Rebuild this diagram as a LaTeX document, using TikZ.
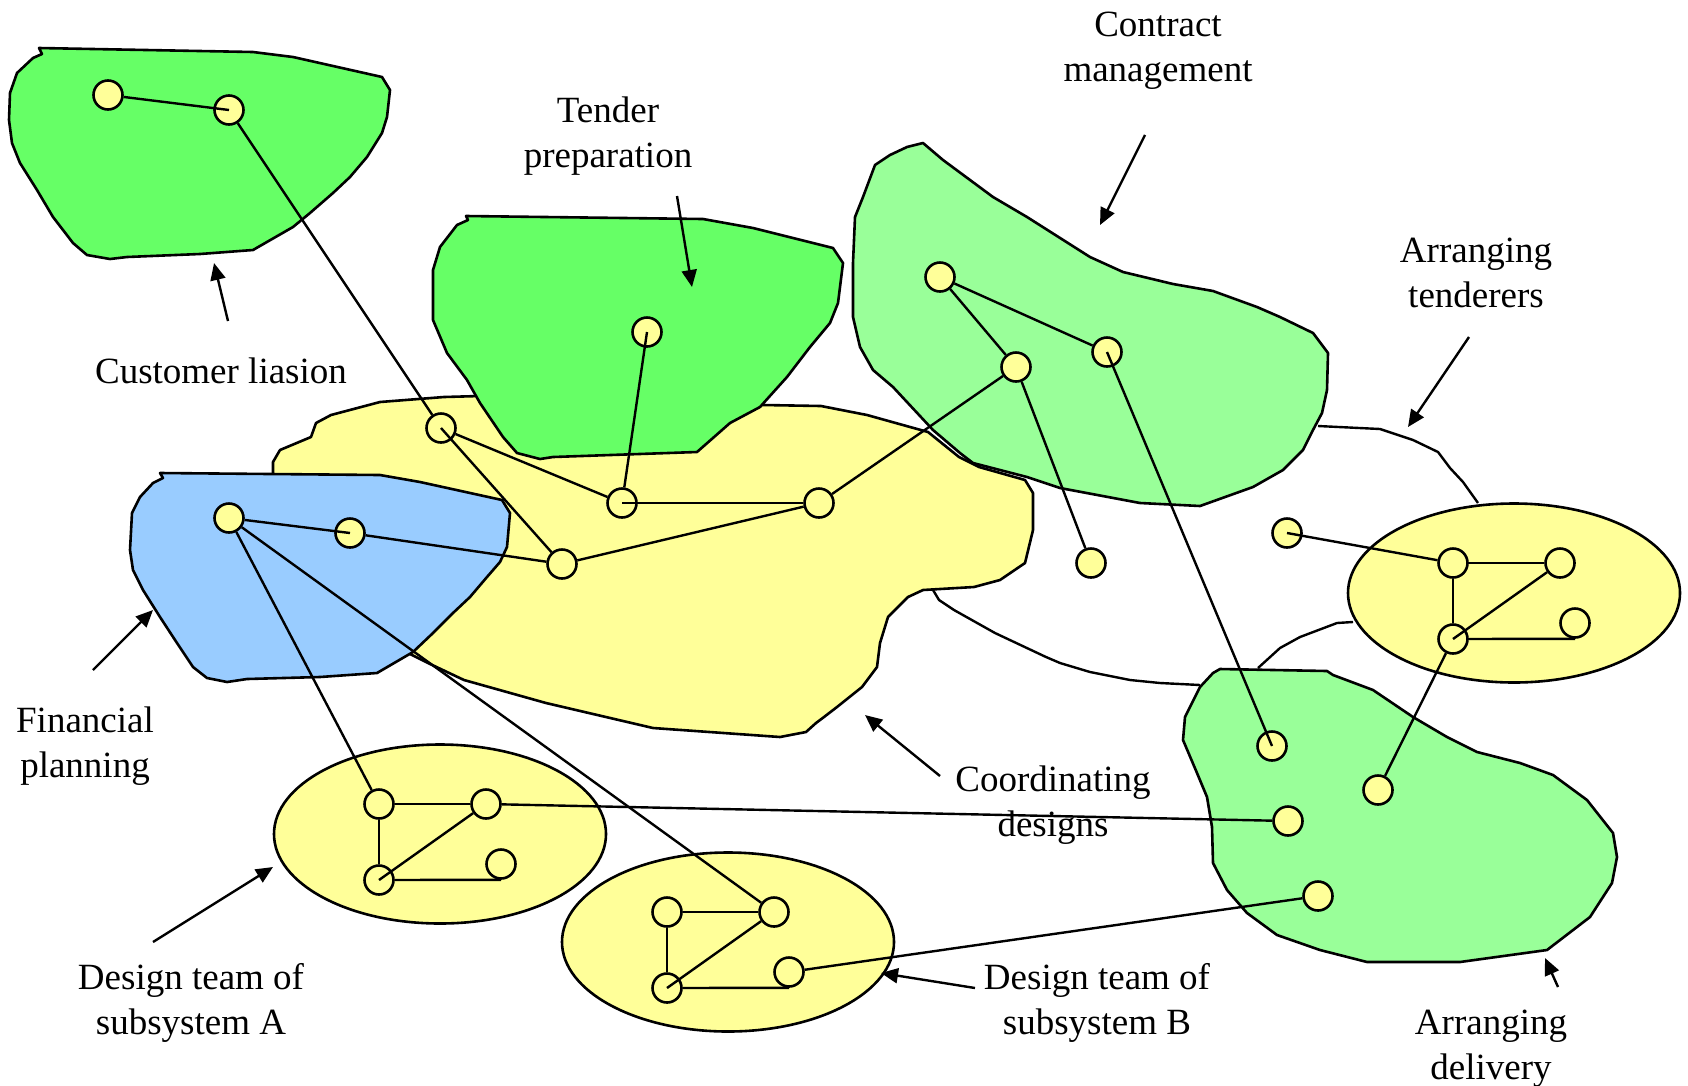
\documentclass[tikz,border=0pt]{standalone}
\usepackage{fontspec}
\setmainfont{Liberation Serif}
\usetikzlibrary{arrows.meta,shapes.geometric}
\definecolor{leafgreen}{HTML}{66FF66}
\definecolor{palegreen}{HTML}{99FF99}
\definecolor{skyblue}{HTML}{99CCFF}
\definecolor{cream}{HTML}{FFFF99}
\tikzset{
  region/.style={draw=black, line width=2.6pt, line join=round},
  actor/.style={circle, draw=black, fill=cream, line width=2.6pt, minimum size=29pt, inner sep=0pt},
  team/.style={ellipse, draw=black, fill=cream, line width=2.6pt, minimum width=332pt, minimum height=179pt, inner sep=0pt},
  link/.style={draw=black, line width=2.4pt},
  seam/.style={draw=black, line width=2.4pt, line join=round},
  pointer/.style={draw=black, line width=2.4pt, -{Triangle[length=17pt,width=15pt]}},
  caption/.style={font=\fontsize{37}{45}\selectfont, align=center, inner sep=0pt},
}
\begin{document}
\begin{tikzpicture}[x=1pt, y=-1pt]
\fill[white] (0,0) rectangle (1688,1085);
\useasboundingbox (0,0) rectangle (1688,1085);

% free boundary lines between the regions
\draw[seam] (1318,426) -- (1380,429) -- (1413,440) -- (1438,452) -- (1450,468) -- (1463,482) -- (1478,503);
\draw[seam] (1353,622) -- (1337,623) -- (1300,637) -- (1280,648) -- (1258,668);
\draw[seam] (933,590) -- (939,600) -- (954,610) -- (995,633) -- (1046,657) -- (1060,663) -- (1090,672) -- (1130,680) -- (1160,683) -- (1200,685);

% coordinating designs
\filldraw[region, fill=cream] (273,473) -- (273,462) -- (280,450) -- (311,437) -- (316,423) -- (331,415) -- (380,402) -- (444,397) -- (480,396) -- (600,400) -- (700,405) -- (763,405) -- (821,406) -- (867,415) -- (928,432) -- (959,457) -- (979,467) -- (1025,480) -- (1033,493) -- (1033,530) -- (1025,563) -- (1000,580) -- (974,587) -- (923,590) -- (908,597) -- (888,617) -- (880,643) -- (877,667) -- (862,687) -- (837,707) -- (824,717) -- (816,723) -- (806,732) -- (780,737) -- (653,728) -- (546,703) -- (464,680) -- (428,663) -- (408,653) -- (380,630) -- (300,560) -- (273,500) -- cycle;

% tender preparation
\filldraw[region, fill=leafgreen] (466,216) -- (703,219) -- (753,228) -- (833,248) -- (843,263) -- (838,303) -- (830,323) -- (810,347) -- (787,377) -- (760,407) -- (730,423) -- (697,452) -- (553,457) -- (540,459) -- (517,453) -- (503,437) -- (480,403) -- (467,380) -- (447,353) -- (433,320) -- (433,270) -- (440,247) -- (457,225) -- (468,220) -- cycle;

% contract management
\filldraw[region, fill=palegreen] (923,143) -- (943,160) -- (993,197) -- (1027,217) -- (1090,257) -- (1123,272) -- (1173,284) -- (1213,291) -- (1257,307) -- (1280,317) -- (1313,333) -- (1328,353) -- (1327,390) -- (1322,413) -- (1313,430) -- (1303,450) -- (1283,470) -- (1253,487) -- (1200,506) -- (1140,503) -- (1060,488) -- (1027,477) -- (973,463) -- (960,453) -- (933,430) -- (893,387) -- (873,370) -- (860,347) -- (853,317) -- (853,263) -- (855,217) -- (863,197) -- (875,165) -- (890,155) -- (907,147) -- cycle;

% financial planning
\filldraw[region, fill=skyblue] (160,473) -- (380,475) -- (420,482) -- (502,500) -- (510,513) -- (507,547) -- (500,562) -- (487,577) -- (470,597) -- (453,613) -- (433,633) -- (413,652) -- (377,673) -- (320,677) -- (247,679) -- (227,682) -- (207,678) -- (193,667) -- (177,643) -- (160,617) -- (143,590) -- (133,570) -- (130,550) -- (132,513) -- (140,497) -- (153,483) -- (163,478) -- cycle;

% customer liaison
\filldraw[region, fill=leafgreen] (39,48) -- (253,52) -- (293,57) -- (382,77) -- (390,90) -- (387,117) -- (382,133) -- (367,157) -- (350,177) -- (333,193) -- (310,213) -- (293,227) -- (253,250) -- (200,254) -- (127,257) -- (110,259) -- (87,255) -- (73,243) -- (53,217) -- (37,190) -- (20,163) -- (12,143) -- (9,120) -- (10,93) -- (17,73) -- (33,58) -- (42,54) -- cycle;

% arranging delivery
\filldraw[region, fill=palegreen] (1220,669) -- (1327,671) -- (1333,675) -- (1373,690) -- (1413,717) -- (1447,737) -- (1477,752) -- (1520,763) -- (1553,775) -- (1587,800) -- (1613,833) -- (1617,857) -- (1612,883) -- (1590,917) -- (1547,950) -- (1460,962) -- (1367,962) -- (1320,950) -- (1277,935) -- (1247,913) -- (1227,890) -- (1213,863) -- (1212,827) -- (1207,797) -- (1197,773) -- (1183,740) -- (1185,717) -- (1200,687) -- (1213,673) -- cycle;

% design teams and tenderers
\node[team] (teamA) at (440,834) {};
\node[team] (teamB) at (728,942) {};
\node[team] (teamC) at (1514,593) {};

% people
\node[actor] (c1) at (108,95) {};
\node[actor] (c2) at (229,110) {};
\node[actor] (t1) at (647,332) {};
\node[actor] (k1) at (940,277) {};
\node[actor] (k2) at (1107,352) {};
\node[actor] (k3) at (1016,367) {};
\node[actor] (n1) at (441,428) {};
\node[actor] (n2) at (622,503) {};
\node[actor] (n3) at (819,503) {};
\node[actor] (n4) at (562,564) {};
\node[actor] (f1) at (229,518) {};
\node[actor] (f2) at (350,533) {};
\node[actor] (m1) at (1091,563) {};
\node[actor] (l1) at (1287,533) {};
\node[actor] (d1) at (1272,746) {};
\node[actor] (d2) at (1378,790) {};
\node[actor] (d3) at (1288,821) {};
\node[actor] (d4) at (1318,896) {};
\node[actor] (a1) at (379,804) {};
\node[actor] (a2) at (486,804) {};
\node[actor] (a3) at (379,880) {};
\node[actor] (a4) at (501,864) {};
\node[actor] (b1) at (667,912) {};
\node[actor] (b2) at (774,912) {};
\node[actor] (b3) at (667,988) {};
\node[actor] (b4) at (789,972) {};
\node[actor] (e1) at (1453,563) {};
\node[actor] (e2) at (1560,563) {};
\node[actor] (e3) at (1453,639) {};
\node[actor] (e4) at (1575,623) {};

% communication links
\draw[link] (c1) -- (c2.center);
\draw[link] (c2) -- (n1);
\draw[link] (n1) -- (n2);
\draw[link] (n1.center) -- (n4);
\draw[link] (t1.center) -- (n2);
\draw[link] (n2.center) -- (n3);
\draw[link] (n4) -- (n3);
\draw[link] (n3) -- (k3);
\draw[link] (k1) -- (k3);
\draw[link] (k1) -- (k2);
\draw[link] (k3) -- (m1);
\draw[link] (k2.center) -- (d1.center);
\draw[link] (f1) -- (f2.center);
\draw[link] (f2) -- (n4);
\draw[link] (f1) -- (a1);
\draw[link] (f1) -- (b2);
\draw[link] (a1) -- (a2);
\draw[link] (a1) -- (a3);
\draw[link] (a2) -- (a3.center);
\draw[link] (a3) -- (a4.south);
\draw[link] (a2) -- (d3);
\draw[link] (b1) -- (b2);
\draw[link] (b1) -- (b3);
\draw[link] (b2) -- (b3.center);
\draw[link] (b3) -- (b4.south);
\draw[link] (b4) -- (d4);
\draw[link] (e1) -- (e2);
\draw[link] (e1) -- (e3);
\draw[link] (e2) -- (e3.center);
\draw[link] (e3) -- (e4.south);
\draw[link] (l1.center) -- (e1);
\draw[link] (e3) -- (d2);

% labels
\node[caption] (lblContract) at (1158,51) {Contract\\management};
\node[caption] (lblTender) at (608,136) {Tender\\preparation};
\node[caption] (lblCustomer) at (221,371) {Customer liasion};
\node[caption] (lblTenderers) at (1476,273) {Arranging\\tenderers};
\node[caption] (lblFinance) at (85,746) {Financial\\planning};
\node[caption] (lblCoord) at (1053,805) {Coordinating\\designs};
\node[caption] (lblTeamA) at (191,1003) {Design team of\\subsystem A};
\node[caption] (lblTeamB) at (1097,1003) {Design team of\\subsystem B};
\node[caption] (lblDelivery) at (1491,1049) {Arranging\\delivery};

% label pointers
\coordinate (pCustA) at (228,321);   \coordinate (pCustB) at (214,263);
\coordinate (pTendA) at (677,196);   \coordinate (pTendB) at (692,287);
\coordinate (pContA) at (1145,135);  \coordinate (pContB) at (1100,225);
\coordinate (pTdrsA) at (1469,337);  \coordinate (pTdrsB) at (1408,427);
\coordinate (pFinA) at (93,670);     \coordinate (pFinB) at (153,610);
\coordinate (pCoorA) at (940,776);   \coordinate (pCoorB) at (865,715);
\coordinate (pTmAA) at (153,942);    \coordinate (pTmAB) at (273,867);
\coordinate (pTmBA) at (975,988);    \coordinate (pTmBB) at (881,973);
\coordinate (pDelA) at (1558,987);   \coordinate (pDelB) at (1545,958);
\draw[pointer] (pCustA) -- (pCustB);
\draw[pointer] (pTendA) -- (pTendB);
\draw[pointer] (pContA) -- (pContB);
\draw[pointer] (pTdrsA) -- (pTdrsB);
\draw[pointer] (pFinA) -- (pFinB);
\draw[pointer] (pCoorA) -- (pCoorB);
\draw[pointer] (pTmAA) -- (pTmAB);
\draw[pointer] (pTmBA) -- (pTmBB);
\draw[pointer] (pDelA) -- (pDelB);
\end{tikzpicture}
\end{document}
